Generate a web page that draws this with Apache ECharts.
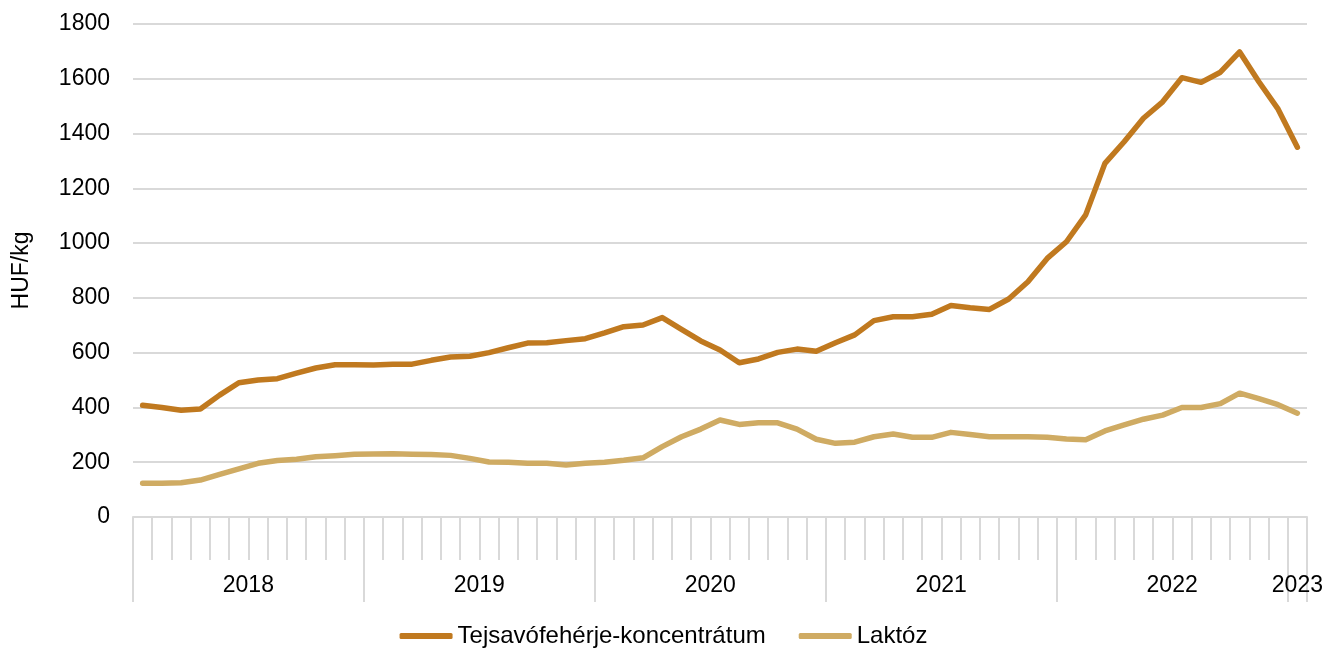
<!DOCTYPE html>
<html>
<head>
<meta charset="utf-8">
<script src="https://cdn.jsdelivr.net/npm/echarts@6/dist/echarts.min.js"></script>
<style>
  html, body { margin: 0; padding: 0; background: #fff; }
  #main { width: 1327px; height: 650px; }
</style>
</head>
<body>
<div id="main"></div>
<script>
// havi adatok 2018-01 .. 2023-01
var months = [];
for (var y = 2018; y <= 2023; y++) {
    for (var m = 1; m <= 12; m++) {
        if (y === 2023 && m > 1) break;
        months.push(y + '-' + (m < 10 ? '0' + m : m));
    }
}

var wheyName = 'Tejsavófehérje-koncentrátum';
var lactoseName = 'Laktóz';

var whey = [408, 400, 390, 394, 445, 490, 500, 505, 525, 544, 556, 556,
    555, 558, 558, 572, 584, 587, 600, 618, 635, 636, 644, 651,
    672, 695, 701, 728, 685, 643, 610, 563, 577, 601, 613, 605,
    636, 665, 717, 731, 731, 740, 772, 764, 758, 796, 859, 944,
    1005, 1103, 1291, 1370, 1456, 1516, 1604, 1587, 1624, 1698, 1589, 1489,
    1350];

var lactose = [123, 123, 125, 135, 156, 176, 196, 206, 211, 220, 224, 229,
    230, 231, 229, 228, 225, 214, 201, 200, 196, 196, 190, 196,
    200, 207, 216, 257, 293, 321, 354, 338, 344, 344, 321, 284,
    269, 273, 293, 303, 291, 291, 309, 301, 293, 293, 293, 291,
    285, 282, 314, 336, 357, 372, 400, 400, 414, 452, 432, 410,
    379];

var gray = '#d9d9d9';
var font = 'Arial, "Liberation Sans", sans-serif';

var myChart = echarts.init(document.getElementById('main'));
var option = {
    animation: false,
    grid: { left: 133, right: 20, top: 24, bottom: 133 },
    legend: {
        top: 619,
        left: 'center',
        itemWidth: 53,
        itemHeight: 6,
        itemGap: 33,
        icon: 'roundRect',
        textStyle: { fontSize: 24, color: '#000', fontFamily: font },
        data: [wheyName, lactoseName]
    },
    xAxis: [
        {
            type: 'category',
            data: months,
            axisLine: { show: true, lineStyle: { color: gray, width: 2 } },
            axisTick: { show: true, interval: 0, length: 43, lineStyle: { color: gray, width: 2 } },
            axisLabel: { show: false }
        },
        {
            type: 'category',
            data: months,
            position: 'bottom',
            axisLine: { show: false },
            axisTick: {
                show: true,
                interval: function (i) { return i % 12 === 0; },
                length: 85,
                lineStyle: { color: gray, width: 2 }
            },
            axisLabel: {
                interval: function (i) { return i % 12 === 5 || i === 60; },
                margin: 57,
                formatter: function (val, i) {
                    return i === 60 ? '{b|' + val.slice(0, 4) + '}' : '{a|' + val.slice(0, 4) + '}';
                },
                rich: {
                    a: { fontSize: 23, color: '#000', fontFamily: font, padding: [0, 0, 0, 19] },
                    b: { fontSize: 23, color: '#000', fontFamily: font }
                }
            }
        }
    ],
    yAxis: {
        type: 'value',
        min: 0,
        max: 1800,
        interval: 200,
        name: 'HUF/kg',
        nameLocation: 'middle',
        nameGap: 100,
        nameTextStyle: { fontSize: 23, color: '#000', fontFamily: font },
        axisLine: { show: false },
        axisTick: { show: false },
        axisLabel: {
            fontSize: 23, color: '#000', fontFamily: font, margin: 23,
            formatter: function (v) { return String(v); }
        },
        splitLine: { lineStyle: { color: gray, width: 2 } }
    },
    series: [
        {
            name: wheyName,
            type: 'line',
            data: whey,
            symbol: 'none',
            color: '#C0791F',
            lineStyle: { width: 5.5, cap: 'round', join: 'round' }
        },
        {
            name: lactoseName,
            type: 'line',
            data: lactose,
            symbol: 'none',
            color: '#CFAB63',
            lineStyle: { width: 5.5, cap: 'round', join: 'round' }
        }
    ]
};
myChart.setOption(option);
</script>
</body>
</html>
